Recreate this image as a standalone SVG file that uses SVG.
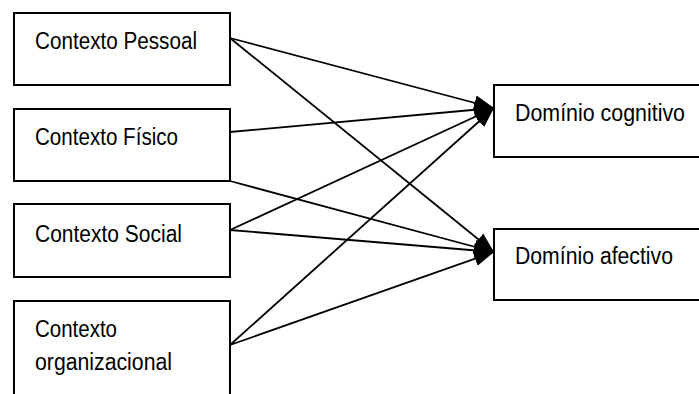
<svg xmlns="http://www.w3.org/2000/svg" width="699" height="394" viewBox="0 0 699 394">
<style>
.box{fill:#fff;stroke:#000;stroke-width:2}
.t{font-family:"Liberation Sans",Arial,sans-serif;font-size:23px;fill:#000}
.c{stroke:#000;stroke-width:1.8;fill:none;marker-end:url(#ah)}
</style>
<defs>
<marker id="ah" markerUnits="userSpaceOnUse" markerWidth="22" markerHeight="18" refX="20" refY="9" orient="auto">
<path d="M0,1.5 L20,9 L0,16.5 Z" fill="#000"/>
</marker>
</defs>
<rect width="699" height="394" fill="#fff"/>
<g id="n1"><rect class="box" x="14" y="13" width="216" height="72"/><text class="t" x="35" y="49" textLength="162" lengthAdjust="spacingAndGlyphs">Contexto Pessoal</text></g>
<g id="n2"><rect class="box" x="14" y="109" width="216" height="72"/><text class="t" x="35" y="145" textLength="143" lengthAdjust="spacingAndGlyphs">Contexto Físico</text></g>
<g id="n3"><rect class="box" x="14" y="204" width="216" height="73"/><text class="t" x="35" y="241.5" textLength="147" lengthAdjust="spacingAndGlyphs">Contexto Social</text></g>
<g id="n4"><rect class="box" x="14" y="301" width="216" height="100"/><text class="t" x="35" y="337" textLength="82" lengthAdjust="spacingAndGlyphs">Contexto</text><text class="t" x="35" y="370" textLength="137" lengthAdjust="spacingAndGlyphs">organizacional</text></g>
<g id="n5"><rect class="box" x="494" y="85" width="215" height="72"/><text class="t" x="515" y="121" textLength="170" lengthAdjust="spacingAndGlyphs">Domínio cognitivo</text></g>
<g id="n6"><rect class="box" x="494" y="229" width="215" height="71"/><text class="t" x="515" y="264" textLength="158" lengthAdjust="spacingAndGlyphs">Domínio afectivo</text></g>
<g id="connectors">
<line class="c" x1="230" y1="38" x2="494" y2="108"/>
<line class="c" x1="230" y1="38" x2="494" y2="252"/>
<line class="c" x1="230" y1="132" x2="494" y2="108"/>
<line class="c" x1="230" y1="181" x2="494" y2="252"/>
<line class="c" x1="230" y1="230" x2="494" y2="108"/>
<line class="c" x1="230" y1="230" x2="494" y2="252"/>
<line class="c" x1="230" y1="345" x2="494" y2="108"/>
<line class="c" x1="230" y1="345" x2="494" y2="252"/>
</g>
</svg>
